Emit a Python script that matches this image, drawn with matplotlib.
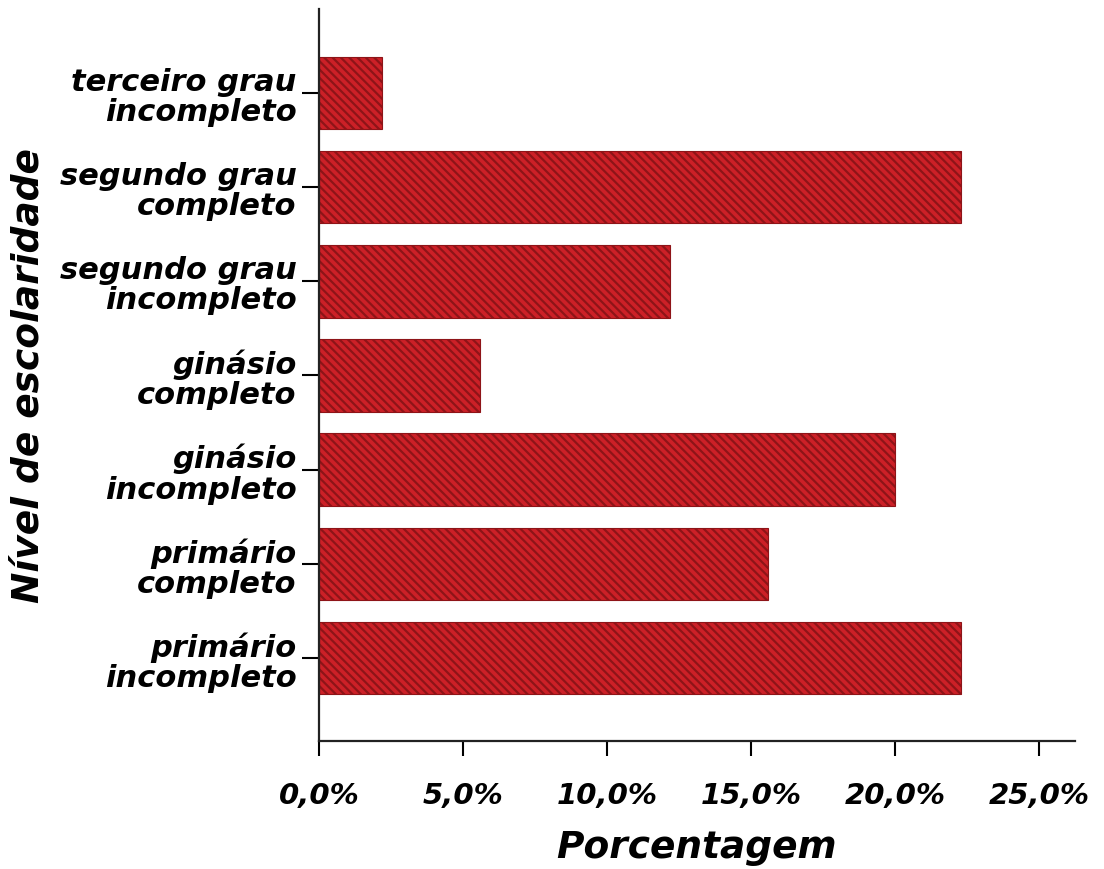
import matplotlib
matplotlib.use("Agg")
import matplotlib.pyplot as plt
from matplotlib.ticker import FuncFormatter

plt.rcParams["hatch.linewidth"] = 1.6

categories = [
    "primário\nincompleto",
    "primário\ncompleto",
    "ginásio\nincompleto",
    "ginásio\ncompleto",
    "segundo grau\nincompleto",
    "segundo grau\ncompleto",
    "terceiro grau\nincompleto",
]
percent = [22.3, 15.6, 20.0, 5.6, 12.2, 22.3, 2.2]
xticks = [0, 5, 10, 15, 20, 25]

fig = plt.figure(figsize=(11.04, 8.7), dpi=100)
ax = fig.add_axes([319 / 1104, 1 - 742 / 870, (1075 - 319) / 1104, (742 - 10) / 870])

pos = list(range(len(categories)))
ax.barh(pos, percent, height=0.77, color="#cc2027", edgecolor="#8e1418",
        hatch="\\\\\\\\", linewidth=0.8)

ax.set_ylim(-0.88, 6.89)
ax.set_xlim(0, 26.25)
ax.set_yticks(pos)
ax.set_yticklabels(categories, fontsize=22, fontweight="heavy", style="italic",
                   linespacing=1.05)
ax.set_xticks(xticks)
ax.xaxis.set_major_formatter(FuncFormatter(lambda v, p: f"{v:.1f}%".replace(".", ",")))
for lbl in ax.get_xticklabels():
    lbl.set_fontsize(21)
    lbl.set_fontweight("heavy")
    lbl.set_style("italic")

ax.tick_params(axis="y", length=12, width=1.5, pad=4)
ax.tick_params(axis="x", length=11, width=1.5, pad=18)
for s in ["top", "right"]:
    ax.spines[s].set_visible(False)
for s in ["left", "bottom"]:
    ax.spines[s].set_linewidth(1.6)
    ax.spines[s].set_color("#222222")

ax.set_xlabel("Porcentagem", fontsize=27, fontweight="heavy", style="italic", labelpad=14)
ax.set_ylabel("Nível de escolaridade", fontsize=27, fontweight="heavy", style="italic", labelpad=10)

fig.savefig("out.png", dpi=100)
